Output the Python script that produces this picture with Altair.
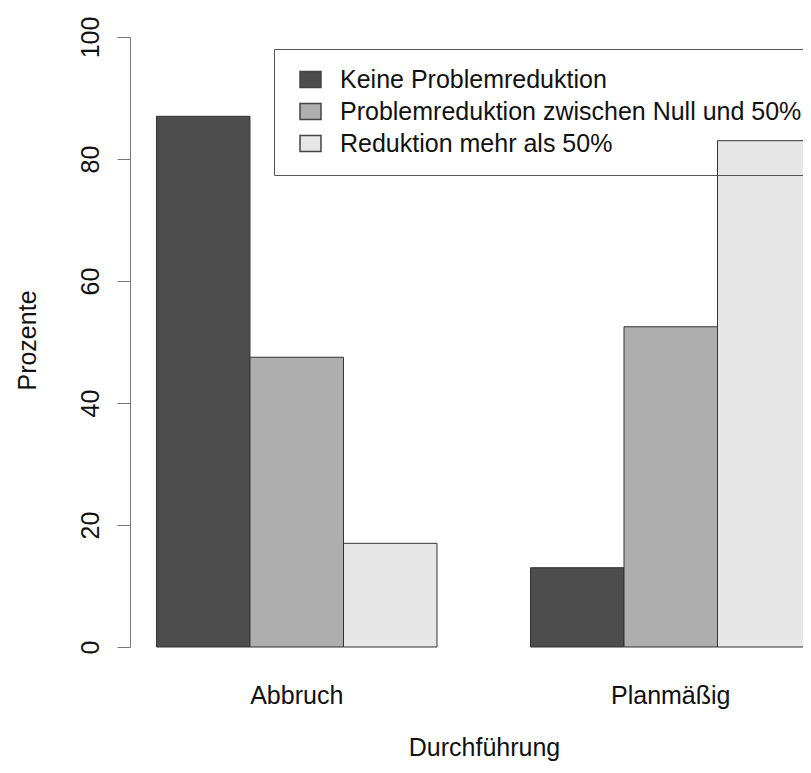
import altair as alt
import pandas as pd

groups = ["Abbruch", "Planmäßig"]
categories = [
    "Keine Problemreduktion",
    "Problemreduktion zwischen Null und 50%",
    "Reduktion mehr als 50%",
]
values_abbruch = [87.0, 47.5, 17.0]
values_planmaessig = [13.0, 52.5, 83.0]
colors = ["#4D4D4D", "#AEAEAE", "#E6E6E6"]
y_ticks = [0, 20, 40, 60, 80, 100]

rows = []
for g, vals in zip(groups, [values_abbruch, values_planmaessig]):
    for c, v in zip(categories, vals):
        rows.append({"Durchführung": g, "Kategorie": c, "Prozente": v})
df = pd.DataFrame(rows)

FONT = "Liberation Sans, Arial, Helvetica, sans-serif"
FS = 25

chart = (
    alt.Chart(df)
    .mark_bar(stroke="#333333", strokeWidth=1)
    .encode(
        x=alt.X(
            "Durchführung:N",
            sort=groups,
            scale=alt.Scale(paddingInner=0.25, paddingOuter=0.0354, align=1),
            axis=alt.Axis(
                title="Durchführung",
                labelAngle=0,
                domain=False,
                ticks=False,
                labelFontSize=FS,
                labelPadding=36,
                labelColor="#111111",
                titleFontSize=FS,
                titleFontWeight="normal",
                titleColor="#111111",
                titleX=354,
                titleY=108,
                titleAlign="center",
                titleBaseline="alphabetic",
                grid=False,
            ),
        ),
        xOffset=alt.XOffset(
            "Kategorie:N",
            sort=categories,
            scale=alt.Scale(paddingInner=0, paddingOuter=0),
        ),
        y=alt.Y(
            "Prozente:Q",
            scale=alt.Scale(domain=[0, 100], nice=False),
            axis=alt.Axis(
                title="Prozente",
                values=y_ticks,
                tickSize=13,
                tickColor="#777777",
                domainColor="#777777",
                labelAngle=270,
                labelAlign="center",
                labelBaseline="alphabetic",
                labelPadding=19,
                labelFontSize=FS,
                labelColor="#111111",
                titleFontSize=FS,
                titleFontWeight="normal",
                titleColor="#111111",
                titleAngle=270,
                titleX=-95,
                titleY=303,
                titleAlign="center",
                titleBaseline="alphabetic",
                grid=False,
            ),
        ),
        color=alt.Color(
            "Kategorie:N",
            sort=categories,
            scale=alt.Scale(domain=categories, range=colors),
            legend=alt.Legend(
                title=None,
                orient="none",
                legendX=144,
                legendY=12,
                direction="vertical",
                strokeColor="#555555",
                padding=18,
                cornerRadius=0,
                symbolType="M-1,-0.76H1V0.76H-1Z",
                symbolSize=441,
                symbolStrokeColor="#444444",
                symbolStrokeWidth=1.5,
                symbolOpacity=1,
                symbolOffset=6,
                labelFontSize=FS,
                labelColor="#111111",
                labelOffset=17,
                labelLimit=0,
                rowPadding=6,
            ),
        ),
    )
    .properties(
        width=681,
        height=610,
        autosize=alt.AutoSizeParams(type="none"),
        padding={"left": 122, "top": 29, "right": -8, "bottom": 118},
    )
    .configure(font=FONT)
    .configure_view(strokeWidth=0)
)

chart.save("out.html", embed_options={"renderer": "svg", "actions": False})
